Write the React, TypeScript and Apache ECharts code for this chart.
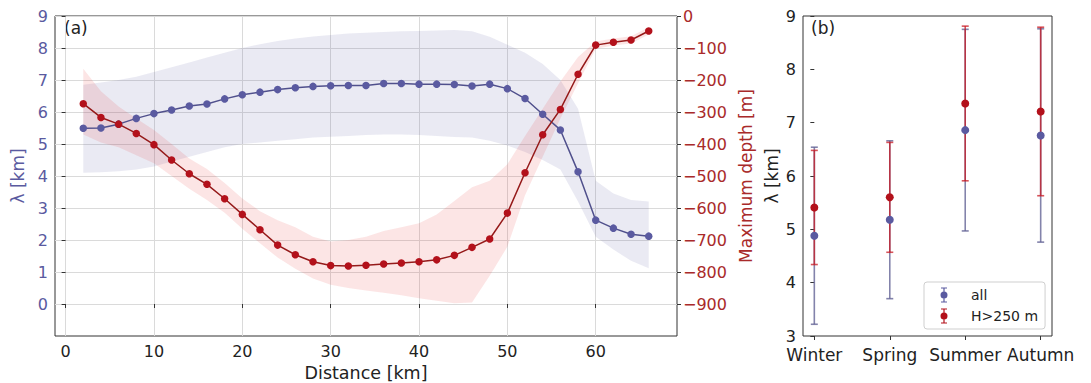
import { useEffect, useRef } from 'react';
import * as echarts from 'echarts';

// ---- Panel (a): along-track profiles ----
const distanceKm = [2, 4, 6, 8, 10, 12, 14, 16, 18, 20, 22, 24, 26, 28, 30, 32, 34, 36, 38, 40, 42, 44, 46, 48, 50, 52, 54, 56, 58, 60, 62, 64, 66];

const lambdaMean = [5.49, 5.5, 5.62, 5.8, 5.95, 6.06, 6.19, 6.25, 6.41, 6.54, 6.62, 6.7, 6.76, 6.8, 6.82, 6.83, 6.83, 6.89, 6.89, 6.87, 6.87, 6.86, 6.81, 6.87, 6.73, 6.42, 5.93, 5.44, 4.13, 2.62, 2.37, 2.18, 2.12];
const lambdaLow = [4.1, 4.12, 4.15, 4.2, 4.3, 4.45, 4.6, 4.75, 4.9, 5.0, 5.05, 5.1, 5.15, 5.2, 5.23, 5.25, 5.28, 5.3, 5.3, 5.28, 5.25, 5.22, 5.2, 5.1, 4.95, 4.75, 4.5, 4.2, 3.2, 2.1, 1.7, 1.35, 1.12];
const lambdaHigh = [6.85, 6.92, 7.0, 7.1, 7.25, 7.4, 7.55, 7.7, 7.85, 8.0, 8.12, 8.22, 8.3, 8.36, 8.41, 8.45, 8.48, 8.5, 8.52, 8.53, 8.55, 8.56, 8.52, 8.35, 8.1, 7.85, 7.5, 7.0, 6.1, 3.85, 3.45, 3.25, 3.2];

const maxDepth = [-274, -317, -338, -367, -402, -450, -493, -526, -571, -620, -668, -716, -746, -768, -780, -781, -779, -775, -772, -768, -762, -748, -723, -697, -616, -490, -371, -292, -182, -91, -82, -75, -47];
const depthShallow = [-165, -235, -283, -320, -356, -400, -445, -478, -522, -570, -610, -638, -660, -690, -705, -700, -690, -672, -660, -648, -620, -578, -535, -515, -463, -375, -290, -205, -128, -80, -70, -63, -35];
const depthDeep = [-370, -395, -410, -435, -460, -500, -540, -575, -615, -665, -710, -755, -790, -820, -840, -850, -858, -865, -873, -882, -890, -898, -895, -812, -721, -560, -440, -320, -210, -102, -92, -86, -58];

const distanceTicks = [0, 10, 20, 30, 40, 50, 60];
const lambdaTicks = [0, 1, 2, 3, 4, 5, 6, 7, 8, 9];
const depthTicks = [-900, -800, -700, -600, -500, -400, -300, -200, -100, 0];

// ---- Panel (b): seasonal means with standard deviation ----
const seasons = ['Winter', 'Spring', 'Summer', 'Autumn'];
const seasonTicks = [0, 1, 2, 3];
const allMean = [4.88, 5.18, 6.86, 6.76];
const allStd = [1.66, 1.48, 1.89, 2.0];
const deepMean = [5.41, 5.6, 7.36, 7.21];
const deepStd = [1.07, 1.03, 1.45, 1.58];
const seasonLambdaTicks = [3, 4, 5, 6, 7, 8, 9];

const BLUE = '#5a5aa0';
const BLUE_LINE = '#50508c';
const RED = '#b3111b';
const RED_LINE = '#951a1a';
const FONT = 'DejaVu Sans';

// legend glyph: capped vertical bar with a dot, left-aligned in a wider box
const ERRORBAR_ICON =
  'path://M0,0 M26,16 M1,0.4 L7,0.4 L7,1.6 L1,1.6 Z M3.4,1.6 L4.6,1.6 L4.6,4.6 L3.4,4.6 Z ' +
  'M0.5,8 A3.5,3.5 0 1 1 7.5,8 A3.5,3.5 0 1 1 0.5,8 Z ' +
  'M3.4,11.4 L4.6,11.4 L4.6,14.4 L3.4,14.4 Z M1,14.4 L7,14.4 L7,15.6 L1,15.6 Z';

const minus = (v: number) => (v < 0 ? '\u2212' + Math.abs(v) : String(v));

// shaded envelope between two curves sharing the same x values
function envelope(xs: number[], low: number[], high: number[], fill: string) {
  return (params: any, api: any) => {
    if (params.dataIndex !== 0) return null;
    const pts: number[][] = [];
    for (let i = 0; i < xs.length; i++) pts.push(api.coord([xs[i], high[i]]));
    for (let i = xs.length - 1; i >= 0; i--) pts.push(api.coord([xs[i], low[i]]));
    return { type: 'polygon', shape: { points: pts }, style: { fill } };
  };
}

function errorBars(lineColor: string, dotColor: string) {
  return (_params: any, api: any) => {
    const x = api.value(0);
    const c = api.coord([x, api.value(1)]);
    const lo = api.coord([x, api.value(2)]);
    const hi = api.coord([x, api.value(3)]);
    const cap = 3.5;
    const ls = { stroke: lineColor, lineWidth: 1.6 };
    return {
      type: 'group',
      children: [
        { type: 'line', shape: { x1: lo[0], y1: lo[1], x2: hi[0], y2: hi[1] }, style: ls },
        { type: 'line', shape: { x1: lo[0] - cap, y1: lo[1], x2: lo[0] + cap, y2: lo[1] }, style: ls },
        { type: 'line', shape: { x1: hi[0] - cap, y1: hi[1], x2: hi[0] + cap, y2: hi[1] }, style: ls },
        { type: 'circle', z2: 10, shape: { cx: c[0], cy: c[1], r: 4 }, style: { fill: dotColor } },
      ],
    };
  };
}

export default function App() {
  const ref = useRef<HTMLDivElement>(null);

  useEffect(() => {
    if (!ref.current) return;
    const chart = echarts.init(ref.current, undefined, { renderer: 'svg' });

    const tickStyle = { color: '#333', width: 1 };
    const gridLine = { show: true, lineStyle: { color: '#dadada', width: 1 } };

    const option: any = {
      animation: false,
      textStyle: { fontFamily: FONT },
      grid: [
        { left: 55, top: 16, width: 622, height: 320, show: true, borderColor: '#333', borderWidth: 1, backgroundColor: 'transparent', outerBoundsMode: 'none' },
        { left: 803, top: 16, width: 249, height: 320, show: true, borderColor: '#333', borderWidth: 1, backgroundColor: 'transparent', outerBoundsMode: 'none' },
      ],
      xAxis: [
        {
          type: 'value', gridIndex: 0, min: -1.2, max: 69.2,
          name: 'Distance [km]', nameLocation: 'middle', nameGap: 25,
          nameTextStyle: { fontSize: 17.5, color: '#222', fontFamily: FONT },
          axisLine: { show: false },
          axisTick: { show: true, customValues: distanceTicks, length: 4, lineStyle: tickStyle },
          axisLabel: { customValues: distanceTicks, margin: 7, fontSize: 16, color: '#222', fontFamily: FONT },
          splitLine: gridLine,
        },
        {
          type: 'value', gridIndex: 1, min: -0.15, max: 3.15,
          axisLine: { show: false },
          axisTick: { show: true, customValues: seasonTicks, length: 4, lineStyle: tickStyle },
          axisLabel: {
            customValues: seasonTicks, margin: 10, fontSize: 17, color: '#222', fontFamily: FONT,
            formatter: (v: number) => seasons[Math.round(v)] ?? '',
          },
          splitLine: { show: false },
        },
      ],
      yAxis: [
        {
          type: 'value', gridIndex: 0, min: -1, max: 9, interval: 1,
          name: 'λ [km]', nameLocation: 'middle', nameGap: 24, nameRotate: 90,
          nameTextStyle: { fontSize: 17, color: BLUE, fontFamily: FONT },
          axisLine: { show: false },
          axisTick: { show: true, customValues: lambdaTicks, length: 4, lineStyle: tickStyle },
          axisLabel: { customValues: lambdaTicks, margin: 7, fontSize: 16, color: BLUE, fontFamily: FONT },
          splitLine: gridLine,
        },
        {
          type: 'value', gridIndex: 0, position: 'right', min: -1000, max: 0, interval: 100,
          name: 'Maximum depth [m]', nameLocation: 'middle', nameGap: 58, nameRotate: 90,
          nameTextStyle: { fontSize: 17, color: '#a92a2a', fontFamily: FONT },
          axisLine: { show: false },
          axisTick: { show: true, customValues: depthTicks, length: 4, lineStyle: tickStyle },
          axisLabel: { customValues: depthTicks, margin: 6, fontSize: 16, color: '#a92a2a', fontFamily: FONT, formatter: minus },
          splitLine: { show: false },
        },
        {
          type: 'value', gridIndex: 1, min: 3, max: 9, interval: 1,
          name: 'λ [km]', nameLocation: 'middle', nameGap: 23, nameRotate: 90,
          nameTextStyle: { fontSize: 17, color: '#222', fontFamily: FONT },
          axisLine: { show: false },
          axisTick: { show: true, customValues: seasonLambdaTicks, length: 4, lineStyle: tickStyle },
          axisLabel: { customValues: seasonLambdaTicks, margin: 7, fontSize: 16, color: '#222', fontFamily: FONT },
          splitLine: { show: false },
        },
      ],
      legend: {
        data: [
          { name: 'all', icon: ERRORBAR_ICON },
          { name: 'H>250 m', icon: ERRORBAR_ICON },
        ],
        orient: 'vertical',
        left: 924, top: 282,
        padding: [5, 7, 5, 16],
        itemGap: 5, itemWidth: 26, itemHeight: 16,
        selectedMode: false,
        borderColor: '#cfcfcf', borderWidth: 1, borderRadius: 3,
        backgroundColor: 'rgba(255,255,255,0.85)',
        textStyle: { fontSize: 14, color: '#222', fontFamily: FONT },
      },
      graphic: [
        { type: 'text', left: 64, top: 19, style: { text: '(a)', fontSize: 17, fill: '#222', fontFamily: FONT } },
        { type: 'text', left: 811, top: 19, style: { text: '(b)', fontSize: 17, fill: '#222', fontFamily: FONT } },
      ],
      series: [
        // spread of λ along the section
        {
          type: 'custom', xAxisIndex: 0, yAxisIndex: 0, silent: true, z: 1,
          data: distanceKm.map((x, i) => [x, lambdaLow[i], lambdaHigh[i]]),
          renderItem: envelope(distanceKm, lambdaLow, lambdaHigh, 'rgba(80,80,160,0.12)'),
        },
        // spread of maximum depth
        {
          type: 'custom', xAxisIndex: 0, yAxisIndex: 1, silent: true, z: 1,
          data: distanceKm.map((x, i) => [x, depthDeep[i], depthShallow[i]]),
          renderItem: envelope(distanceKm, depthDeep, depthShallow, 'rgba(230,40,40,0.12)'),
        },
        {
          type: 'line', name: 'lambda', xAxisIndex: 0, yAxisIndex: 0,
          data: distanceKm.map((x, i) => [x, lambdaMean[i]]),
          symbol: 'circle', symbolSize: 7.5, itemStyle: { color: BLUE },
          lineStyle: { color: BLUE_LINE, width: 1.5 }, z: 3,
        },
        {
          type: 'line', name: 'depth', xAxisIndex: 0, yAxisIndex: 1,
          data: distanceKm.map((x, i) => [x, maxDepth[i]]),
          symbol: 'circle', symbolSize: 7.5, itemStyle: { color: RED },
          lineStyle: { color: RED_LINE, width: 1.5 }, z: 3,
        },
        // seasonal error bars
        {
          type: 'custom', name: 'all', xAxisIndex: 1, yAxisIndex: 2,
          itemStyle: { color: BLUE },
          data: seasons.map((_, i) => [i, allMean[i], allMean[i] - allStd[i], allMean[i] + allStd[i]]),
          renderItem: errorBars('rgba(100,100,150,0.8)', BLUE),
        },
        {
          type: 'custom', name: 'H>250 m', xAxisIndex: 1, yAxisIndex: 2,
          itemStyle: { color: RED },
          data: seasons.map((_, i) => [i, deepMean[i], deepMean[i] - deepStd[i], deepMean[i] + deepStd[i]]),
          renderItem: errorBars('rgba(200,25,35,0.75)', RED),
        },
      ],
    };

    chart.setOption(option);
    return () => chart.dispose();
  }, []);

  return <div ref={ref} style={{ position: 'fixed', left: 0, top: 0, width: 1091, height: 383, background: '#fff' }} />;
}
